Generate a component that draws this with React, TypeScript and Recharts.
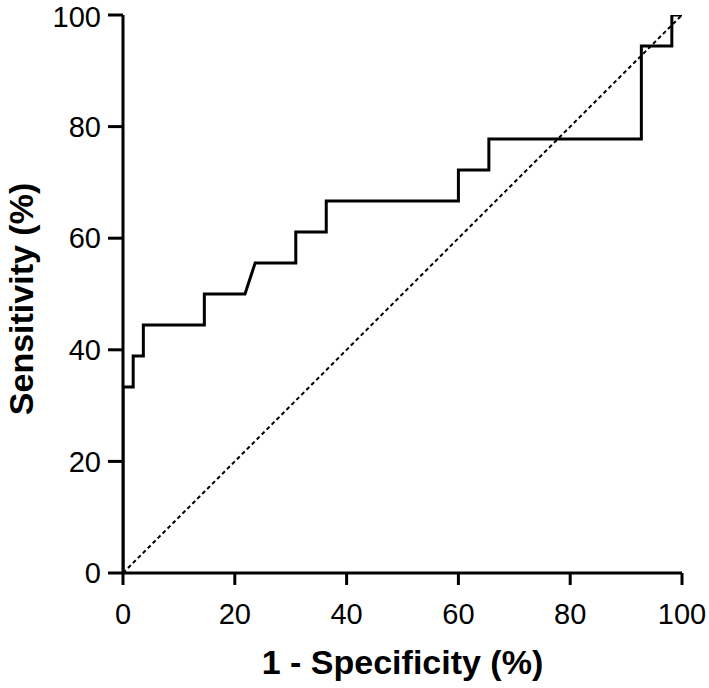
import React from 'react';
import { LineChart, Line, XAxis, YAxis } from 'recharts';

// ROC curve corner points (1 - specificity %, sensitivity %)
const fprValues = [0, 0, 1.82, 1.82, 3.64, 3.64, 14.55, 14.55, 21.82, 23.64, 30.91, 30.91, 36.36, 36.36, 60, 60, 65.45, 65.45, 92.73, 92.73, 98.18, 98.18, 100];
const tprValues = [0, 33.33, 33.33, 38.89, 38.89, 44.44, 44.44, 50, 50, 55.56, 55.56, 61.11, 61.11, 66.67, 66.67, 72.22, 72.22, 77.78, 77.78, 94.44, 94.44, 100, 100];

// Reference (chance) line
const refX = [0, 100];
const refY = [0, 100];

const xTicks = [0, 20, 40, 60, 80, 100];
const yTicks = [0, 20, 40, 60, 80, 100];

const xTitle = '1 - Specificity (%)';
const yTitle = 'Sensitivity (%)';

const rocData = fprValues.map((x, i) => ({ x, y: tprValues[i] }));
const refData = refX.map((x, i) => ({ x, y: refY[i] }));

const FONT = '"Liberation Sans", Arial, Helvetica, sans-serif';

export default function App() {
  return (
    <div style={{ position: 'fixed', left: 0, top: 0, background: '#fff' }}>
      <LineChart
        width={709}
        height={688}
        margin={{ top: 15, right: 27, left: 3, bottom: 9 }}
        style={{ fontFamily: FONT }}
      >
        <XAxis
          type="number"
          dataKey="x"
          domain={[0, 100]}
          ticks={xTicks}
          allowDataOverflow
          height={106}
          tickSize={12}
          tickMargin={18}
          axisLine={{ stroke: '#000', strokeWidth: 3 }}
          tickLine={{ stroke: '#000', strokeWidth: 3 }}
          tick={{ fill: '#000', fontSize: 29, fontFamily: FONT }}
          label={{
            value: xTitle,
            position: 'insideBottom',
            offset: 5,
            style: { fill: '#000', fontSize: 34, fontWeight: 'bold', fontFamily: FONT },
          }}
        />
        <YAxis
          type="number"
          dataKey="y"
          domain={[0, 100]}
          ticks={yTicks}
          allowDataOverflow
          width={120}
          tickSize={15}
          tickMargin={7}
          axisLine={{ stroke: '#000', strokeWidth: 3 }}
          tickLine={{ stroke: '#000', strokeWidth: 3 }}
          tick={{ fill: '#000', fontSize: 29, fontFamily: FONT }}
          label={{
            value: yTitle,
            angle: -90,
            position: 'insideLeft',
            offset: 18,
            dy: 5,
            style: { fill: '#000', fontSize: 34, fontWeight: 'bold', fontFamily: FONT, textAnchor: 'middle' },
          }}
        />
        <Line
          data={refData}
          dataKey="y"
          type="linear"
          stroke="#000"
          strokeWidth={2}
          strokeDasharray="4 3"
          dot={false}
          activeDot={false}
          isAnimationActive={false}
        />
        <Line
          data={rocData}
          dataKey="y"
          type="linear"
          stroke="#000"
          strokeWidth={3}
          strokeLinejoin="miter"
          dot={false}
          activeDot={false}
          isAnimationActive={false}
        />
      </LineChart>
    </div>
  );
}
